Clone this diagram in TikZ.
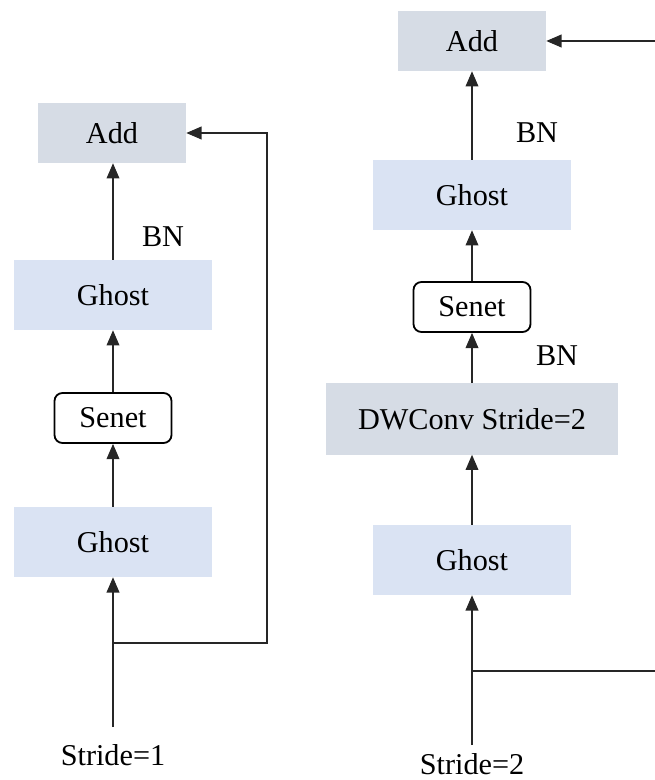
\documentclass[tikz,border=0pt]{standalone}
\usepackage{fontspec}
\setmainfont{Liberation Serif}
\usepackage{xcolor}
\definecolor{addfill}{HTML}{D6DCE5}
\definecolor{ghostfill}{HTML}{DAE3F3}
\definecolor{linegray}{HTML}{262626}
\usepackage{tikz}
\usetikzlibrary{arrows.meta,positioning}

\begin{document}
\begin{tikzpicture}[x=0.025cm, y=-0.025cm,
    opbox/.style={rectangle, fill=addfill, text=black, minimum width=3.7cm, minimum height=1.5cm, font=\fontsize{21.5}{24}\selectfont, inner sep=0pt},
    ghostbox/.style={opbox, fill=ghostfill, minimum width=4.95cm, minimum height=1.75cm},
    convbox/.style={opbox, minimum width=7.275cm, minimum height=1.775cm},
    senetbox/.style={rectangle, rounded corners=0.2cm, draw=black, line width=1.3pt, fill=white, minimum width=2.925cm, minimum height=1.25cm, font=\fontsize{21.5}{24}\selectfont, inner sep=0pt},
    lbl/.style={font=\fontsize{21.5}{24}\selectfont, inner sep=0pt},
    link/.style={draw=linegray, line width=0.8pt},
    flow/.style={link, -{Triangle[length=0.38cm,width=0.32cm]}},
  ]
    \useasboundingbox (0,0) rectangle (655,780);

    % stride 1 block
    \node[opbox] (add1) at (112,133) {Add};
    \node[ghostbox] (ghost1b) at (113,295) {Ghost};
    \node[senetbox] (senet1) at (113,418) {Senet};
    \node[ghostbox] (ghost1a) at (113,542) {Ghost};
    \node[lbl] (bn1) at (163,237) {BN};
    \node[lbl] (in1) at (113,755) {Stride=1};
    \coordinate (src1) at (113,727);
    \coordinate (split1) at (113,643);

    \draw[flow] (src1) -- (ghost1a.south);
    \draw[flow] (ghost1a.north) -- (senet1.south);
    \draw[flow] (senet1.north) -- (ghost1b.south);
    \draw[flow] (ghost1b.north) -- (ghost1b.north |- add1.south);
    \draw[flow] (split1) -- ++(154,0) |- (add1.east);

    % stride 2 block
    \node[opbox] (add2) at (472,41) {Add};
    \node[ghostbox] (ghost2b) at (472,195) {Ghost};
    \node[senetbox] (senet2) at (472,307) {Senet};
    \node[convbox] (dwconv) at (472,419) {DWConv Stride=2};
    \node[ghostbox] (ghost2a) at (472,560) {Ghost};
    \node[lbl] (bn2) at (537,133) {BN};
    \node[lbl] (bn3) at (557,356) {BN};
    \node[lbl] (in2) at (472,764) {Stride=2};
    \coordinate (src2) at (472,745);
    \coordinate (split2) at (472,671);
    \coordinate (skipout) at (655,671);
    \coordinate (skipin) at (655,41);

    \draw[flow] (src2) -- (ghost2a.south);
    \draw[flow] (ghost2a.north) -- (dwconv.south);
    \draw[flow] (dwconv.north) -- (senet2.south);
    \draw[flow] (senet2.north) -- (ghost2b.south);
    \draw[flow] (ghost2b.north) -- (add2.south);
    \draw[link] (split2) -- (skipout);
    \draw[flow] (skipin) -- (add2.east);
  \end{tikzpicture}
\end{document}
